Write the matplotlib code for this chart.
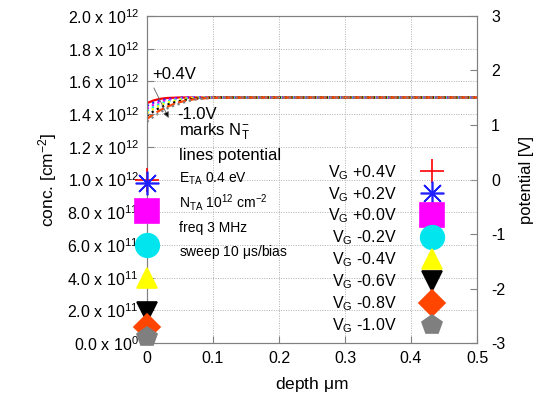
import numpy as np
import matplotlib
matplotlib.use("Agg")
import matplotlib.pyplot as plt
from matplotlib.lines import Line2D

plt.rcParams["font.family"] = "Liberation Sans"
plt.rcParams["mathtext.fontset"] = "custom"
plt.rcParams["mathtext.rm"] = "Liberation Sans"
plt.rcParams["mathtext.it"] = "Liberation Sans:italic"
plt.rcParams["axes.unicode_minus"] = False
plt.rcParams.update({'font.size': 12})

# data
# ============================================================
bias_labels = ["+0.4V", "+0.2V", "+0.0V", "-0.2V", "-0.4V", "-0.6V", "-0.8V", "-1.0V"]
colors = ["#ff0000", "#2020ff", "#ff00ff", "#00e5ee", "#ffff00", "#000000", "#ff4500", "#7f7f7f"]
markers = ["+", (8, 2, 0), "s", "o", "^", "v", "D", "p"]
msizes = [17, 17, 17, 17, 15, 15, 13, 15]

# N_T- at depth 0 for each bias (marks, left axis)
nt_conc = [1.0e12, 0.98e12, 0.81e12, 0.60e12, 0.40e12, 0.19e12, 0.10e12, 0.04e12]

# potential vs depth (lines, right axis)
depth = [0, 0.01, 0.02, 0.03, 0.04, 0.05, 0.06, 0.07, 0.08, 0.1, 0.15, 0.2, 0.3, 0.4, 0.5]
pot_p04 = [1.40, 1.45, 1.48, 1.495, 1.50, 1.505, 1.505, 1.505, 1.505, 1.505, 1.505, 1.505, 1.505, 1.505, 1.505]
pot_p02 = [1.35, 1.41, 1.45, 1.475, 1.49, 1.50, 1.505, 1.505, 1.505, 1.505, 1.505, 1.505, 1.505, 1.505, 1.505]
pot_p00 = [1.30, 1.37, 1.42, 1.455, 1.48, 1.49, 1.50, 1.505, 1.505, 1.505, 1.505, 1.505, 1.505, 1.505, 1.505]
pot_m02 = [1.26, 1.33, 1.39, 1.43, 1.46, 1.48, 1.49, 1.50, 1.505, 1.505, 1.505, 1.505, 1.505, 1.505, 1.505]
pot_m04 = [1.22, 1.30, 1.36, 1.41, 1.44, 1.47, 1.485, 1.495, 1.50, 1.505, 1.505, 1.505, 1.505, 1.505, 1.505]
pot_m06 = [1.17, 1.25, 1.32, 1.37, 1.41, 1.44, 1.465, 1.48, 1.49, 1.505, 1.505, 1.505, 1.505, 1.505, 1.505]
pot_m08 = [1.11, 1.20, 1.27, 1.33, 1.38, 1.42, 1.45, 1.47, 1.485, 1.50, 1.505, 1.505, 1.505, 1.505, 1.505]
pot_m10 = [1.06, 1.15, 1.23, 1.30, 1.35, 1.39, 1.43, 1.46, 1.48, 1.50, 1.505, 1.505, 1.505, 1.505, 1.505]
potentials = [pot_p04, pot_p02, pot_p00, pot_m02, pot_m04, pot_m06, pot_m08, pot_m10]
linestyles = ["-", ":", ":", ":", ":", ":", "--", ":"]

conc_ticks = [0.0, 0.2e12, 0.4e12, 0.6e12, 0.8e12, 1.0e12, 1.2e12, 1.4e12, 1.6e12, 1.8e12, 2.0e12]
conc_labels = [r"0.0 x 10$^{0}$", r"2.0 x 10$^{11}$", r"4.0 x 10$^{11}$", r"6.0 x 10$^{11}$",
               r"8.0 x 10$^{11}$", r"1.0 x 10$^{12}$", r"1.2 x 10$^{12}$", r"1.4 x 10$^{12}$",
               r"1.6 x 10$^{12}$", r"1.8 x 10$^{12}$", r"2.0 x 10$^{12}$"]
depth_ticks = [0, 0.1, 0.2, 0.3, 0.4, 0.5]
depth_labels = ["0", "0.1", "0.2", "0.3", "0.4", "0.5"]
pot_ticks = [-3, -2, -1, 0, 1, 2, 3]

# plot
# ============================================================
fig = plt.figure(figsize=(5.44, 3.99), dpi=100)
ax = fig.add_axes([0.270, 0.140, 0.607, 0.820])
ax2 = ax.twinx()

frame_c = "#808080"
for a in (ax, ax2):
    for s in a.spines.values():
        s.set_color(frame_c)

ax.set_xlim(0, 0.5)
ax.set_ylim(0, 2.0e12)
ax2.set_ylim(-3, 3)

ax.set_xticks(depth_ticks)
ax.set_xticklabels(depth_labels)
ax.set_yticks(conc_ticks)
ax.set_yticklabels(conc_labels)
ax2.set_yticks(pot_ticks)
ax.tick_params(direction="in", color=frame_c, length=5, pad=6, labelsize=11.5)
ax2.tick_params(direction="in", color=frame_c, length=5, pad=10, labelsize=11.5)
ax.grid(True, linestyle=(0, (1, 1.5)), color="#b0b0b0", linewidth=0.7)

for k in range(len(potentials)):
    ax2.plot(depth, potentials[k], linestyle=linestyles[k], color=colors[k], linewidth=1.6)

for k in range(len(nt_conc)):
    ax.plot([0], [nt_conc[k]], linestyle="none", marker=markers[k], color=colors[k],
            markersize=msizes[k], markeredgewidth=1.2, clip_on=False, zorder=5)

ax.set_zorder(ax2.get_zorder() + 1)
ax.patch.set_visible(False)

ax.set_xlabel(r"depth $\mathrm{\mu}$m", fontsize=12.5, labelpad=6)
ax.set_ylabel(r"conc. [cm$^{-2}$]", labelpad=6, fontsize=12.5)
ax2.set_ylabel("potential [V]", labelpad=10, fontsize=12)

# annotations
ax.text(0.0076, 1.645e12, "+0.4V", va="center", ha="left")
ax.text(0.0456, 1.40e12, "-1.0V", va="center", ha="left")
ax.annotate("", xy=(0.033, 1.376e12), xytext=(0.0106, 1.56e12),
            arrowprops=dict(arrowstyle="-|>", color="#606060", lw=0.6,
                            mutation_scale=9, shrinkA=0, shrinkB=0, fc="black"))
ax.text(0.0486, 1.29e12, r"marks N$_\mathrm{T}^{-}$", va="center", ha="left")
ax.text(0.0486, 1.15e12, "lines potential", va="center", ha="left")
ax.text(0.0486, 1.003e12, r"E$_\mathrm{TA}$ 0.4 eV", va="center", ha="left", fontsize=10)
ax.text(0.0486, 0.862e12, r"N$_\mathrm{TA}$ 10$^{12}$ cm$^{-2}$", va="center", ha="left", fontsize=10)
ax.text(0.0486, 0.703e12, "freq 3 MHz", va="center", ha="left", fontsize=10)
ax.text(0.0486, 0.557e12, r"sweep 10 $\mathrm{\mu}$s/bias", va="center", ha="left", fontsize=10)

handles = [Line2D([], [], linestyle="none", marker=markers[k], color=colors[k],
                  markersize=msizes[k], markeredgewidth=1.2) for k in range(len(bias_labels))]
labels = [r"V$_\mathrm{G}$ " + b for b in bias_labels]
leg = ax.legend(handles, labels, loc="upper right", bbox_to_anchor=(444 / 544, 1 - 163 / 399),
                bbox_transform=fig.transFigure, frameon=False, markerfirst=False, fontsize=11.5,
                handlelength=1.5, handletextpad=1.45, labelspacing=0.2, borderpad=0, borderaxespad=0)

plt.savefig("out.png", dpi=100)
